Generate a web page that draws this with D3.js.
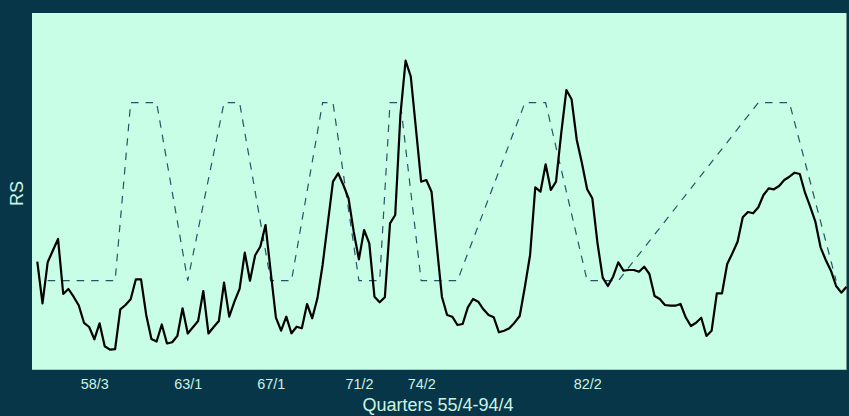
<!DOCTYPE html>
<html>
<head>
<meta charset="utf-8">
<script src="https://cdn.jsdelivr.net/npm/d3@7"></script>
<style>
  html, body { margin: 0; padding: 0; background: #063647; }
  svg { display: block; }
  text { font-family: "Liberation Sans", Arial, sans-serif; }
</style>
</head>
<body>
<svg id="chart" width="849" height="416"></svg>
<script>
// RS series, quarterly 55/4 .. 94/4 (157 quarters), index 0 = 55/4
const rsValues = [
  10.83, 6.67, 10.77, 11.95, 13.10, 7.60, 8.10, 7.33, 6.45, 4.72,
  4.30, 3.07, 4.67, 2.37, 2.04, 2.08, 6.07, 6.50, 7.08, 9.07,
  9.07, 5.50, 3.10, 2.85, 4.55, 2.65, 2.77, 3.40, 6.17, 3.65,
  4.27, 4.90, 7.90, 3.65, 4.30, 4.90, 8.73, 5.33, 6.83, 8.12,
  11.73, 8.93, 11.48, 12.35, 14.50, 9.80, 5.23, 3.93, 5.33, 3.67,
  4.33, 4.17, 6.60, 5.17, 7.17, 10.50, 14.67, 18.83, 19.67, 18.50,
  17.17, 13.83, 11.07, 14.00, 12.67, 7.33, 6.77, 7.27, 14.67, 15.50,
  25.50, 30.93, 29.35, 24.10, 18.83, 19.00, 17.83, 12.50, 7.33, 5.50,
  5.33, 4.50, 4.60, 6.27, 7.10, 6.83, 6.07, 5.50, 5.27, 3.77,
  3.93, 4.17, 4.73, 5.40, 8.33, 11.50, 18.27, 17.83, 20.57, 18.00,
  18.83, 23.67, 28.00, 27.07, 23.00, 20.67, 18.07, 17.17, 12.67, 9.23,
  8.40, 9.33, 10.77, 9.93, 10.00, 10.00, 9.83, 10.33, 9.60, 7.40,
  7.10, 6.50, 6.43, 6.43, 6.60, 5.27, 4.40, 4.73, 5.23, 3.40,
  3.93, 7.67, 7.67, 10.60, 11.67, 12.83, 15.27, 15.80, 15.67, 16.27,
  17.50, 18.17, 18.07, 18.40, 19.00, 19.33, 19.73, 19.60, 17.73, 16.33,
  14.83, 12.27, 11.00, 9.93, 8.40, 7.73, 8.33
];

// Business-cycle reference line (dashed): turning-point quarters and level
const cycleQuarter = [2, 15, 18, 23, 29, 36, 39, 45, 49, 55, 57, 62, 66, 68, 70, 74, 81, 94, 98, 106, 112, 139, 145, 154];
const cyclePhase   = ["L","L","H","H","L","H","H","L","L","H","H","L","L","H","H","L","L","H","H","L","L","H","H","L"];
const cycleLevels  = { L: 8.93, H: 26.73 };

// Axis tick labels and their quarter index
const tickLabels  = ["58/3", "63/1", "67/1", "71/2", "74/2", "82/2"];
const tickQuarter = [11, 29, 45, 62, 74, 106];

const xTitle = "Quarters 55/4-94/4";
const yTitle = "RS";

const svg = d3.select("#chart");
const W = 849, H = 416;
const panel = { left: 32, right: 847, top: 13, bottom: 370 };

svg.append("rect").attr("x", 0).attr("y", 0).attr("width", W).attr("height", H).attr("fill", "#063647");
svg.append("rect")
  .attr("x", panel.left).attr("y", panel.top)
  .attr("width", panel.right - panel.left).attr("height", panel.bottom - panel.top)
  .attr("fill", "#c8fde6");
// faint panel edges
svg.append("line").attr("x1", panel.left).attr("x2", panel.right)
  .attr("y1", panel.bottom - 0.5).attr("y2", panel.bottom - 0.5)
  .attr("stroke", "#9fcab9").attr("stroke-width", 1);
svg.append("line").attr("x1", panel.right - 0.5).attr("x2", panel.right - 0.5)
  .attr("y1", panel.top).attr("y2", panel.bottom)
  .attr("stroke", "#6f9694").attr("stroke-width", 1);

const x = d3.scaleLinear().domain([0, rsValues.length - 1]).range([37.3, 846.5]);
const y = d3.scaleLinear().domain([0, 35.7]).range([panel.bottom, panel.top]);

// dashed cycle line
const cycleData = cycleQuarter.map((q, i) => ({ q, v: cycleLevels[cyclePhase[i]] }));
svg.append("path")
  .datum(cycleData)
  .attr("fill", "none")
  .attr("stroke", "#2a5262")
  .attr("stroke-width", 1.2)
  .attr("stroke-dasharray", "7.5,7")
  .attr("d", d3.line().x(d => x(d.q)).y(d => y(d.v)));

// RS line
svg.append("path")
  .datum(rsValues)
  .attr("fill", "none")
  .attr("stroke", "#000")
  .attr("stroke-width", 2.2)
  .attr("stroke-linejoin", "round")
  .attr("d", d3.line().x((d, i) => x(i)).y(d => y(d)));

// x axis (labels only)
const axis = d3.axisBottom(x)
  .tickValues(tickQuarter)
  .tickFormat((d, i) => tickLabels[i])
  .tickSize(0)
  .tickPadding(0);
const gx = svg.append("g").attr("transform", `translate(0,${panel.bottom})`).call(axis);
gx.select(".domain").remove();
gx.selectAll("text")
  .attr("y", 19.3)
  .attr("dy", 0)
  .attr("fill", "#cdf3e4")
  .style("font-size", "14.4px")
  .style("font-family", "'Liberation Sans', Arial, sans-serif");

// axis titles
svg.append("text")
  .attr("x", (panel.left + panel.right) / 2 - 1.5)
  .attr("y", 411)
  .attr("text-anchor", "middle")
  .attr("fill", "#cdf3e4")
  .style("font-size", "18px")
  .text(xTitle);

svg.append("text")
  .attr("transform", `translate(23.3,${(panel.top + panel.bottom) / 2 + 2}) rotate(-90)`)
  .attr("text-anchor", "middle")
  .attr("fill", "#cdf3e4")
  .style("font-size", "18px")
  .text(yTitle);
</script>
</body>
</html>
